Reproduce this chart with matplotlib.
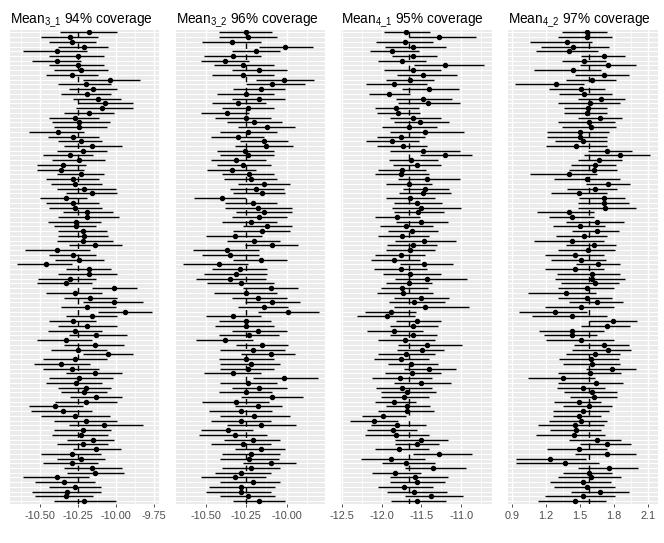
import matplotlib
matplotlib.use('Agg')
import matplotlib.pyplot as plt
from matplotlib.ticker import MultipleLocator, FormatStrFormatter

plt.rcParams['font.family'] = ['Liberation Sans', 'DejaVu Sans']
plt.rcParams['mathtext.fontset'] = 'custom'
plt.rcParams['mathtext.rm'] = 'Liberation Sans'
plt.rcParams['mathtext.it'] = 'Liberation Sans:italic'
plt.rcParams['axes.unicode_minus'] = False

# panel titles and true parameter values (dashed line)
titles = [r'Mean$_{\mathrm{3\_1}}$ 94% coverage', r'Mean$_{\mathrm{3\_2}}$ 96% coverage',
          r'Mean$_{\mathrm{4\_1}}$ 95% coverage', r'Mean$_{\mathrm{4\_2}}$ 97% coverage']
trueVals = [-10.25, -10.25, -11.66, 1.582]

# Mean3_1 : estimate, lower, upper (100 replications, top to bottom)
est31 = [-10.18, -10.30, -10.29, -10.21, -10.39, -10.25, -10.39, -10.25, -10.23, -10.29,
         -10.04, -10.20, -10.15, -10.19, -10.12, -10.07, -10.09, -10.18, -10.27, -10.24,
         -10.24, -10.38, -10.28, -10.23, -10.16, -10.22, -10.30, -10.24, -10.35, -10.36,
         -10.23, -10.28, -10.27, -10.21, -10.16, -10.33, -10.28, -10.27, -10.19, -10.19,
         -10.26, -10.26, -10.22, -10.21, -10.22, -10.14, -10.39, -10.28, -10.24, -10.46,
         -10.18, -10.18, -10.30, -10.33, -10.01, -10.27, -10.17, -10.01, -10.19, -9.94,
         -10.16, -10.28, -10.19, -10.27, -10.13, -10.33, -10.14, -10.25, -10.05, -10.27,
         -10.36, -10.29, -10.14, -10.24, -10.26, -10.20, -10.21, -10.13, -10.20, -10.40,
         -10.35, -10.27, -10.20, -10.08, -10.22, -10.23, -10.15, -10.22, -10.13, -10.29,
         -10.23, -10.29, -10.16, -10.14, -10.39, -10.34, -10.27, -10.32, -10.33, -10.21]
lo31 = [-10.37, -10.49, -10.44, -10.38, -10.61, -10.44, -10.55, -10.44, -10.41, -10.46,
        -10.22, -10.38, -10.31, -10.36, -10.28, -10.25, -10.26, -10.34, -10.44, -10.42,
        -10.41, -10.57, -10.45, -10.38, -10.34, -10.39, -10.48, -10.42, -10.52, -10.52,
        -10.39, -10.46, -10.43, -10.39, -10.33, -10.50, -10.46, -10.44, -10.35, -10.38,
        -10.45, -10.41, -10.38, -10.38, -10.39, -10.31, -10.60, -10.44, -10.40, -10.65,
        -10.33, -10.38, -10.51, -10.52, -10.16, -10.46, -10.34, -10.22, -10.36, -10.12,
        -10.33, -10.44, -10.38, -10.45, -10.31, -10.52, -10.34, -10.43, -10.22, -10.48,
        -10.54, -10.48, -10.33, -10.44, -10.46, -10.38, -10.36, -10.30, -10.40, -10.57,
        -10.56, -10.49, -10.41, -10.31, -10.41, -10.42, -10.32, -10.39, -10.28, -10.49,
        -10.39, -10.48, -10.34, -10.32, -10.61, -10.53, -10.44, -10.55, -10.53, -10.41]
hi31 = [-9.99, -10.12, -10.13, -10.05, -10.19, -10.08, -10.23, -10.08, -10.05, -10.12,
        -9.84, -10.03, -9.99, -10.03, -9.97, -9.89, -9.89, -10.01, -10.11, -10.04,
        -10.06, -10.21, -10.11, -10.09, -9.96, -10.06, -10.15, -10.07, -10.20, -10.21,
        -10.08, -10.11, -10.09, -10.00, -9.99, -10.19, -10.11, -10.09, -10.02, -9.98,
        -10.10, -10.13, -10.06, -10.05, -10.02, -9.96, -10.17, -10.13, -10.08, -10.29,
        -10.03, -9.99, -10.13, -10.16, -9.86, -10.09, -9.99, -9.82, -10.00, -9.76,
        -9.99, -10.13, -9.99, -10.09, -9.93, -10.16, -9.95, -10.06, -9.89, -10.06,
        -10.17, -10.11, -9.96, -10.02, -10.09, -10.03, -10.06, -9.96, -9.99, -10.22,
        -10.16, -10.04, -9.99, -9.82, -10.03, -10.05, -10.01, -10.05, -9.97, -10.10,
        -10.07, -10.12, -9.96, -9.95, -10.18, -10.14, -10.10, -10.10, -10.15, -10.00]

# Mean3_2
est32 = [-10.25, -10.24, -10.34, -10.01, -10.19, -10.33, -10.38, -10.27, -10.17, -10.27,
         -10.02, -10.09, -10.16, -10.25, -10.17, -10.30, -10.24, -10.37, -10.25, -10.20,
         -10.12, -10.24, -10.30, -10.14, -10.13, -10.26, -10.24, -10.31, -10.27, -10.34,
         -10.23, -10.22, -10.14, -10.19, -10.15, -10.40, -10.21, -10.18, -10.14, -10.17,
         -10.22, -10.12, -10.15, -10.32, -10.20, -10.09, -10.37, -10.35, -10.16, -10.42,
         -10.29, -10.31, -10.35, -10.28, -10.10, -10.25, -10.18, -10.09, -10.14, -9.99,
         -10.33, -10.25, -10.25, -10.18, -10.23, -10.38, -10.15, -10.21, -10.10, -10.25,
         -10.22, -10.24, -10.33, -10.02, -10.24, -10.17, -10.25, -10.09, -10.31, -10.18,
         -10.28, -10.20, -10.28, -10.16, -10.36, -10.32, -10.21, -10.27, -10.16, -10.22,
         -10.23, -10.10, -10.22, -10.28, -10.32, -10.21, -10.28, -10.28, -10.24, -10.17]
lo32 = [-10.42, -10.42, -10.52, -10.17, -10.34, -10.51, -10.53, -10.45, -10.34, -10.46,
        -10.19, -10.25, -10.33, -10.43, -10.34, -10.46, -10.40, -10.53, -10.44, -10.37,
        -10.30, -10.41, -10.47, -10.29, -10.32, -10.43, -10.41, -10.47, -10.43, -10.49,
        -10.40, -10.39, -10.30, -10.35, -10.33, -10.57, -10.38, -10.38, -10.31, -10.34,
        -10.40, -10.27, -10.33, -10.50, -10.37, -10.26, -10.58, -10.52, -10.33, -10.64,
        -10.46, -10.51, -10.56, -10.49, -10.27, -10.45, -10.34, -10.26, -10.30, -10.18,
        -10.50, -10.42, -10.44, -10.34, -10.42, -10.56, -10.31, -10.41, -10.28, -10.42,
        -10.41, -10.41, -10.51, -10.21, -10.41, -10.34, -10.42, -10.28, -10.52, -10.32,
        -10.48, -10.41, -10.47, -10.37, -10.53, -10.54, -10.39, -10.47, -10.32, -10.40,
        -10.41, -10.27, -10.40, -10.44, -10.53, -10.41, -10.48, -10.50, -10.41, -10.33]
hi32 = [-10.09, -10.06, -10.16, -9.84, -10.04, -10.16, -10.23, -10.08, -10.00, -10.08,
        -9.83, -9.89, -10.01, -10.08, -10.01, -10.13, -10.08, -10.23, -10.10, -10.03,
        -9.95, -10.06, -10.14, -9.99, -9.96, -10.08, -10.08, -10.13, -10.10, -10.19,
        -10.08, -10.06, -9.98, -10.02, -10.01, -10.25, -10.06, -9.97, -9.97, -10.00,
        -10.06, -9.97, -9.98, -10.15, -10.04, -9.93, -10.17, -10.17, -10.00, -10.24,
        -10.12, -10.12, -10.13, -10.08, -9.93, -10.06, -10.00, -9.92, -9.99, -9.80,
        -10.16, -10.10, -10.08, -10.00, -10.05, -10.21, -9.99, -10.01, -9.95, -10.08,
        -10.04, -10.08, -10.16, -9.81, -10.06, -10.00, -10.09, -9.90, -10.11, -10.03,
        -10.09, -9.98, -10.10, -9.94, -10.21, -10.12, -10.04, -10.10, -10.01, -10.04,
        -10.05, -9.94, -10.04, -10.10, -10.13, -10.04, -10.07, -10.10, -10.07, -10.01]

# Mean4_1
est41 = [-11.69, -11.28, -11.71, -11.61, -11.87, -11.60, -11.75, -11.21, -11.61, -11.48,
         -11.65, -11.84, -11.41, -11.91, -11.48, -11.42, -11.82, -11.80, -11.60, -11.52,
         -11.66, -11.46, -11.76, -11.87, -11.73, -11.48, -11.21, -11.63, -11.56, -11.75,
         -11.76, -11.43, -11.66, -11.45, -11.48, -11.65, -11.56, -11.51, -11.54, -11.81,
         -11.51, -11.69, -11.62, -11.74, -11.47, -11.61, -11.65, -11.76, -11.84, -11.47,
         -11.76, -11.64, -11.43, -11.66, -11.74, -11.73, -11.51, -11.59, -11.46, -11.88,
         -11.93, -11.56, -11.61, -11.85, -11.60, -11.71, -11.43, -11.49, -11.69, -11.76,
         -11.63, -11.41, -11.62, -11.77, -11.51, -11.74, -11.68, -11.72, -11.84, -11.68,
         -11.68, -11.98, -12.10, -11.81, -11.86, -11.82, -11.51, -11.56, -11.78, -11.28,
         -11.88, -11.69, -11.36, -11.83, -11.58, -11.56, -11.72, -11.59, -11.38, -11.56]
lo41 = [-11.97, -11.66, -12.07, -11.96, -12.15, -11.87, -12.05, -11.59, -11.97, -11.81,
        -11.94, -12.20, -11.74, -12.16, -11.82, -11.79, -12.09, -12.06, -11.90, -11.84,
        -11.99, -11.90, -12.06, -12.20, -12.06, -11.89, -11.52, -11.91, -11.86, -12.04,
        -12.09, -11.79, -11.94, -11.73, -11.78, -11.94, -11.85, -11.87, -11.84, -12.08,
        -11.82, -12.02, -11.92, -12.05, -11.83, -11.93, -11.95, -12.08, -12.13, -11.77,
        -12.10, -11.98, -11.83, -11.95, -12.01, -12.06, -11.85, -11.91, -11.84, -12.21,
        -12.31, -11.82, -11.89, -12.18, -11.90, -12.05, -11.79, -11.81, -12.05, -12.10,
        -11.92, -11.72, -11.96, -12.12, -11.84, -12.07, -12.01, -12.01, -12.09, -11.95,
        -12.04, -12.25, -12.40, -12.14, -12.18, -12.21, -11.83, -11.83, -12.08, -11.61,
        -12.26, -12.00, -11.71, -12.12, -11.90, -11.90, -12.04, -11.93, -11.71, -11.88]
hi41 = [-11.39, -10.81, -11.35, -11.19, -11.53, -11.30, -11.44, -10.71, -11.25, -11.05,
        -11.34, -11.43, -11.03, -11.64, -11.12, -11.01, -11.53, -11.52, -11.25, -11.15,
        -11.30, -10.97, -11.46, -11.53, -11.43, -11.02, -10.86, -11.29, -11.26, -11.44,
        -11.41, -11.01, -11.37, -11.15, -11.13, -11.33, -11.24, -11.00, -11.22, -11.52,
        -11.17, -11.35, -11.29, -11.41, -11.06, -11.30, -11.33, -11.46, -11.52, -11.10,
        -11.43, -11.26, -10.93, -11.37, -11.42, -11.36, -11.16, -11.21, -10.90, -11.57,
        -11.58, -11.26, -11.29, -11.48, -11.31, -11.33, -10.99, -11.22, -11.33, -11.41,
        -11.29, -11.07, -11.25, -11.37, -11.13, -11.37, -11.32, -11.40, -11.57, -11.39,
        -11.34, -11.70, -11.79, -11.44, -11.56, -11.40, -11.17, -11.28, -11.40, -10.87,
        -11.46, -11.33, -10.94, -11.50, -11.17, -11.21, -11.35, -11.18, -10.98, -11.19]

# Mean4_2
est42 = [1.56, 1.56, 1.39, 1.44, 1.40, 1.71, 1.54, 1.75, 1.44, 1.71,
         1.61, 1.29, 1.51, 1.54, 1.69, 1.59, 1.57, 1.56, 1.68, 1.58,
         1.60, 1.50, 1.50, 1.53, 1.47, 1.74, 1.85, 1.67, 1.63, 1.62,
         1.40, 1.56, 1.75, 1.63, 1.49, 1.71, 1.71, 1.72, 1.40, 1.43,
         1.65, 1.50, 1.65, 1.54, 1.43, 1.62, 1.57, 1.46, 1.51, 1.66,
         1.46, 1.61, 1.61, 1.63, 1.56, 1.38, 1.56, 1.65, 1.51, 1.28,
         1.43, 1.79, 1.74, 1.43, 1.43, 1.51, 1.71, 1.75, 1.63, 1.60,
         1.61, 1.78, 1.59, 1.35, 1.64, 1.53, 1.61, 1.62, 1.49, 1.58,
         1.53, 1.49, 1.51, 1.46, 1.47, 1.45, 1.65, 1.74, 1.49, 1.74,
         1.24, 1.37, 1.76, 1.58, 1.60, 1.53, 1.56, 1.68, 1.53, 1.46]
lo42 = [1.34, 1.31, 1.06, 1.16, 1.11, 1.51, 1.34, 1.50, 1.10, 1.46,
        1.38, 0.93, 1.23, 1.32, 1.48, 1.31, 1.36, 1.36, 1.48, 1.31,
        1.34, 1.21, 1.21, 1.28, 1.20, 1.57, 1.54, 1.48, 1.42, 1.40,
        1.06, 1.27, 1.55, 1.39, 1.25, 1.49, 1.48, 1.48, 1.12, 1.23,
        1.38, 1.26, 1.43, 1.29, 1.10, 1.38, 1.31, 1.19, 1.25, 1.47,
        1.19, 1.30, 1.28, 1.33, 1.31, 1.04, 1.31, 1.40, 1.19, 0.96,
        1.08, 1.58, 1.51, 1.14, 1.18, 1.20, 1.45, 1.43, 1.38, 1.32,
        1.35, 1.55, 1.31, 1.04, 1.31, 1.30, 1.36, 1.41, 1.27, 1.35,
        1.26, 1.26, 1.23, 1.13, 1.24, 1.11, 1.40, 1.50, 1.21, 1.46,
        0.94, 0.94, 1.48, 1.35, 1.31, 1.24, 1.27, 1.42, 1.19, 1.13]
hi42 = [1.74, 1.78, 1.61, 1.76, 1.66, 1.90, 1.73, 1.99, 1.69, 1.93,
        1.82, 1.54, 1.72, 1.78, 1.90, 1.85, 1.74, 1.74, 1.87, 1.81,
        1.82, 1.76, 1.74, 1.74, 1.74, 1.96, 2.12, 1.87, 1.82, 1.83,
        1.65, 1.85, 1.94, 1.83, 1.74, 1.90, 1.93, 1.99, 1.62, 1.62,
        1.89, 1.72, 1.84, 1.74, 1.71, 1.82, 1.81, 1.71, 1.73, 1.85,
        1.71, 1.85, 1.90, 1.84, 1.80, 1.64, 1.78, 1.88, 1.80, 1.56,
        1.74, 2.00, 1.94, 1.71, 1.65, 1.80, 1.93, 1.95, 1.85, 1.84,
        1.85, 1.99, 1.86, 1.63, 1.88, 1.72, 1.83, 1.83, 1.69, 1.78,
        1.76, 1.69, 1.74, 1.71, 1.69, 1.72, 1.86, 1.95, 1.74, 1.99,
        1.55, 1.67, 2.01, 1.78, 1.86, 1.77, 1.81, 1.93, 1.81, 1.73]

panelData = [(est31, lo31, hi31), (est32, lo32, hi32), (est41, lo41, hi41), (est42, lo42, hi42)]

# axis settings per panel
xLims = [(-10.697, -9.715), (-10.685, -9.764), (-12.505, -10.617), (0.870, 2.185)]
xSteps = [0.25, 0.25, 0.5, 0.3]
xFmts = ['%.2f', '%.2f', '%.1f', '%.1f']

W, H = 664, 543
fig = plt.figure(figsize=(W / 100, H / 100), dpi=100)
fig.patch.set_facecolor('white')

panelLefts = [10, 175.7, 341.5, 508.3]
panelWidths = [149.3, 149.3, 150.2, 149.4]
panelTop, panelBottom = 29.5, 504

for i, (est, lo, hi) in enumerate(panelData):
    ax = fig.add_axes([panelLefts[i] / W, (H - panelBottom) / H,
                       panelWidths[i] / W, (panelBottom - panelTop) / H])
    ax.set_facecolor('#EBEBEB')
    for s in ax.spines.values():
        s.set_visible(False)

    rows = list(range(1, len(est) + 1))
    # white gridlines for each replicate row
    for r in rows:
        ax.axhline(r, color='white', lw=0.75, zorder=0.5)

    ax.hlines(rows, lo, hi, color='black', lw=1.0, zorder=2)
    ax.plot(est, rows, 'o', color='black', ms=2.9, zorder=3)
    ax.axvline(trueVals[i], color='black', lw=1.0, ls=(0, (4, 4)), zorder=4)

    ax.set_xlim(*xLims[i])
    ax.set_ylim(len(est) + 0.6, 0.4)
    ax.xaxis.set_major_locator(MultipleLocator(xSteps[i]))
    ax.xaxis.set_minor_locator(MultipleLocator(xSteps[i] / 2))
    ax.xaxis.set_major_formatter(FormatStrFormatter(xFmts[i]))
    ax.grid(True, axis='x', which='major', color='white', lw=1.0, zorder=0.5)
    ax.grid(True, axis='x', which='minor', color='white', lw=0.5, zorder=0.5)
    ax.set_axisbelow(True)
    ax.set_yticks([])
    ax.tick_params(axis='x', which='major', length=2.5, width=0.6, color='#333333',
                   labelsize=7.8, labelcolor='#4D4D4D', pad=2.3)
    ax.tick_params(axis='x', which='minor', length=0)
    ax.set_title(titles[i], loc='left', fontsize=9.8, pad=3.5, color='black')

fig.savefig('out.png', dpi=100)
plt.close()
